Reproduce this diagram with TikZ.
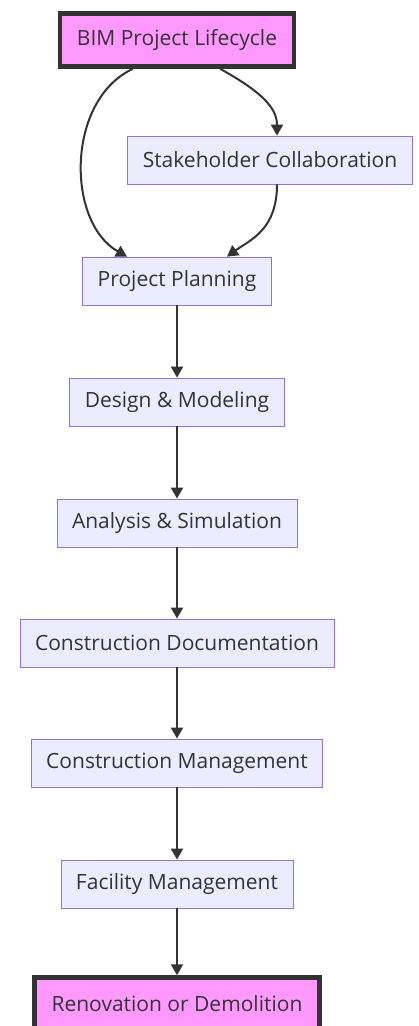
\documentclass[tikz,border=0pt]{standalone}
\usepackage{fontspec}
\setmainfont{Open Sans}
\usepackage{tikz}
\usetikzlibrary{arrows.meta,positioning}
\definecolor{cNodeF}{HTML}{ECECFF}
\definecolor{cNodeD}{HTML}{9370DB}
\definecolor{cPinkF}{HTML}{FF99FF}
\definecolor{cInk}{HTML}{333333}
\tikzset{
  blk/.style   = {draw=cNodeD, fill=cNodeF, line width=0.8pt, text=cInk,
                  inner xsep=15pt, minimum height=48pt, font=\fontsize{21}{24}\selectfont},
  phase/.style = {blk, draw=cInk, fill=cPinkF, line width=4.5pt, minimum height=53pt,
                  inner xsep=17pt},
  flow/.style  = {cInk, line width=2pt, -{Triangle[length=11pt,width=12pt]}},
}

\begin{document}
\begin{tikzpicture}[x=1pt,y=-1pt]
  \useasboundingbox (0,0) rectangle (418,1026);
  \node[phase] (bim)    at (177,40)   {BIM Project Lifecycle};
  \node[blk]   (stake)  at (270,160)  {Stakeholder Collaboration};
  \node[blk]   (plan)   at (177,281)  {Project Planning};
  \node[blk]   (design) at (177,402)  {Design \& Modeling};
  \node[blk]   (anal)   at (177,523)  {Analysis \& Simulation};
  \node[blk]   (docs)   at (177,643)  {Construction Documentation};
  \node[blk]   (mgmt)   at (177,763)  {Construction Management};
  \node[blk]   (fac)    at (177,884)  {Facility Management};
  \node[phase] (reno)   at (177,1004) {Renovation or Demolition};
  % curved edges round the stakeholder box
  \draw[flow] ([xshift=-44pt]bim.south) .. controls (66,100) and (66,222) .. ([xshift=-50pt]plan.north);
  \draw[flow] ([xshift=43pt]bim.south) .. controls (262,92) and (277,108) .. ([xshift=7pt]stake.north);
  \draw[flow] ([xshift=7pt]stake.south) .. controls (277,230) and (250,240) .. ([xshift=50pt]plan.north);
  % straight chain
  \draw[flow] (plan)   -- (design);
  \draw[flow] (design) -- (anal);
  \draw[flow] (anal)   -- (docs);
  \draw[flow] (docs)   -- (mgmt);
  \draw[flow] (mgmt)   -- (fac);
  \draw[flow] (fac)    -- (reno);
\end{tikzpicture}
\end{document}
